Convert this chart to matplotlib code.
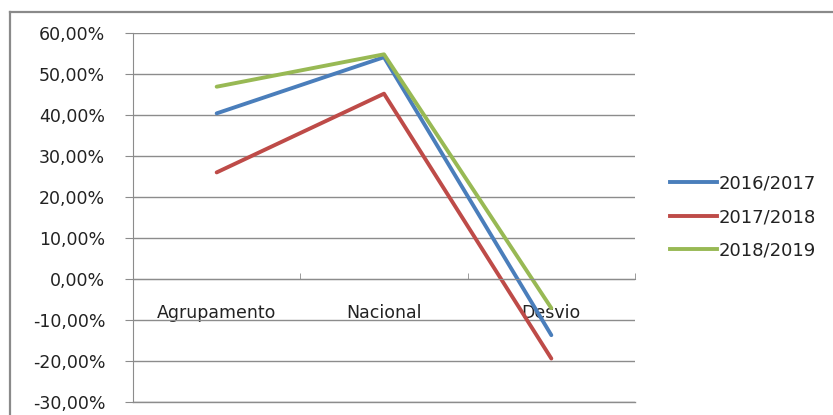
import matplotlib
matplotlib.use("Agg")
import matplotlib.pyplot as plt
from matplotlib.lines import Line2D
from matplotlib.ticker import FuncFormatter, FixedLocator

categories = ["Agrupamento", "Nacional", "Desvio"]
series_names = ["2016/2017", "2017/2018", "2018/2019"]
s2016 = [40.4, 54.1, -13.7]
s2017 = [26.0, 45.2, -19.4]
s2018 = [46.9, 54.8, -7.1]
colors = ["#4A7EBB", "#BE4B48", "#98B954"]
yticks = [-30, -20, -10, 0, 10, 20, 30, 40, 50, 60]

W, H = 833, 415
fig = plt.figure(figsize=(W / 100, H / 100), dpi=100)
ax = fig.add_axes([133 / W, 1 - 402 / H, (635 - 133) / W, (402 - 33) / H])

x = list(range(len(categories)))
for vals, c, name in zip([s2016, s2017, s2018], colors, series_names):
    ax.plot(x, vals, color=c, lw=2.8, label=name, solid_capstyle="round")

ax.set_xlim(-0.5, 2.5)
ax.set_ylim(-30, 60)
ax.set_yticks(yticks)
ax.yaxis.set_major_formatter(FuncFormatter(lambda v, p: f"{v:.2f}%".replace(".", ",")))
ax.grid(axis="y", color="#8c8c8c", lw=1)
ax.axhline(yticks[0], color="#8c8c8c", lw=1, clip_on=False, zorder=0.5)
ax.set_axisbelow(True)

for s in ["top", "right"]:
    ax.spines[s].set_visible(False)
ax.spines["left"].set_color("#8c8c8c")
ax.spines["bottom"].set_position(("data", 0))
ax.spines["bottom"].set_color("#8c8c8c")

ax.set_xticks(x)
ax.set_xticklabels(categories)
ax.xaxis.set_minor_locator(FixedLocator([-0.5, 0.5, 1.5, 2.5]))
ax.tick_params(axis="x", which="major", length=0, pad=18, labelsize=12.5, labelcolor="#222222")
ax.tick_params(axis="x", which="minor", length=4, direction="in", color="#8c8c8c")
ax.tick_params(axis="y", length=6, color="#8c8c8c", pad=14, labelsize=12.5, labelcolor="#222222")

handles = [Line2D([0], [0], color=c, lw=2.8) for c in colors]
fig.legend(handles, series_names, loc="center left",
           bbox_to_anchor=(654 / W, 1 - 217 / H), frameon=False,
           fontsize=13, handlelength=2.6, handletextpad=0.1,
           labelspacing=0.85, labelcolor="#222222")

# outer chart border
fig.add_artist(Line2D([10 / W, 10 / W], [0, 1 - 12 / H], transform=fig.transFigure,
                      color="#8a8a8a", lw=1.6))
fig.add_artist(Line2D([10 / W, 1], [1 - 12 / H, 1 - 12 / H], transform=fig.transFigure,
                      color="#8a8a8a", lw=1.6))

fig.savefig("out.png", dpi=100)
